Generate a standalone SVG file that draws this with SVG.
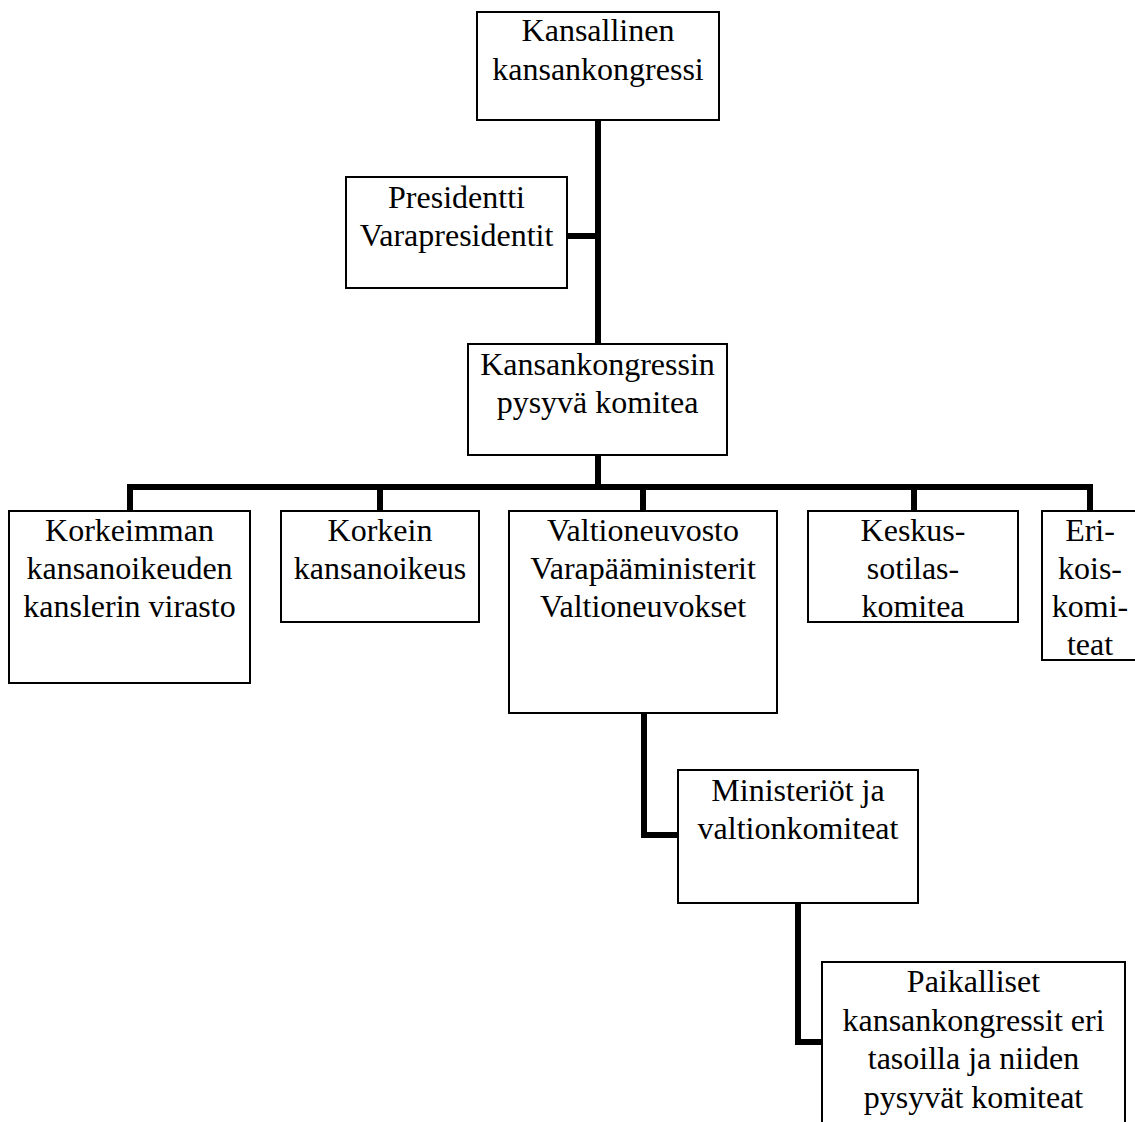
<svg xmlns="http://www.w3.org/2000/svg" width="1135" height="1122" viewBox="0 0 1135 1122">
<style>
.box{fill:#fff;stroke:#000;stroke-width:2}
.lbl{font-family:'Liberation Serif','DejaVu Serif',serif;font-size:32px;fill:#000;text-anchor:middle}
.con{fill:none;stroke:#000;stroke-width:6;stroke-linejoin:miter;stroke-linecap:butt}
</style>
<rect width="1135" height="1122" fill="#fff"/>
<g id="connectors">
<path class="con" d="M598 120 V344"/>
<path class="con" d="M567 236 H598"/>
<path class="con" d="M598 455 V487"/>
<path class="con" d="M130 511 V487 H1090 V511"/>
<path class="con" d="M380 487 V511"/>
<path class="con" d="M643 487 V511"/>
<path class="con" d="M914 487 V511"/>
<path class="con" d="M644 713 V835 H678"/>
<path class="con" d="M798 903 V1042 H822"/>
</g>
<g id="node-kansallinen">
<rect class="box" x="477" y="12" width="242" height="108"/>
<text class="lbl" x="598" y="41">Kansallinen</text>
<text class="lbl" x="598" y="79.5">kansankongressi</text>
</g>
<g id="node-presidentti">
<rect class="box" x="346" y="177" width="221" height="111"/>
<text class="lbl" x="456.5" y="208">Presidentti</text>
<text class="lbl" x="456.5" y="246">Varapresidentit</text>
</g>
<g id="node-pysyva">
<rect class="box" x="468" y="344" width="259" height="111"/>
<text class="lbl" x="597.5" y="375">Kansankongressin</text>
<text class="lbl" x="597.5" y="413">pysyvä komitea</text>
</g>
<g id="node-kansleri">
<rect class="box" x="9" y="511" width="241" height="172"/>
<text class="lbl" x="129.5" y="541">Korkeimman</text>
<text class="lbl" x="129.5" y="579">kansanoikeuden</text>
<text class="lbl" x="129.5" y="617">kanslerin virasto</text>
</g>
<g id="node-korkein">
<rect class="box" x="281" y="511" width="198" height="111"/>
<text class="lbl" x="380" y="541">Korkein</text>
<text class="lbl" x="380" y="579">kansanoikeus</text>
</g>
<g id="node-valtioneuvosto">
<rect class="box" x="509" y="511" width="268" height="202"/>
<text class="lbl" x="643" y="541">Valtioneuvosto</text>
<text class="lbl" x="643" y="579">Varapääministerit</text>
<text class="lbl" x="643" y="617">Valtioneuvokset</text>
</g>
<g id="node-keskus">
<rect class="box" x="808" y="511" width="210" height="111"/>
<text class="lbl" x="913" y="541">Keskus-</text>
<text class="lbl" x="913" y="579">sotilas-</text>
<text class="lbl" x="913" y="617">komitea</text>
</g>
<g id="node-erikois">
<rect class="box" x="1042" y="511" width="100" height="149"/>
<text class="lbl" x="1090" y="541">Eri-</text>
<text class="lbl" x="1090" y="579">kois-</text>
<text class="lbl" x="1090" y="617">komi-</text>
<text class="lbl" x="1090" y="655">teat</text>
</g>
<g id="node-ministeriot">
<rect class="box" x="678" y="770" width="240" height="133"/>
<text class="lbl" x="798" y="801">Ministeriöt ja</text>
<text class="lbl" x="798" y="839">valtionkomiteat</text>
</g>
<g id="node-paikalliset">
<rect class="box" x="822" y="962" width="303" height="170"/>
<text class="lbl" x="973.5" y="992">Paikalliset</text>
<text class="lbl" x="973.5" y="1030.5">kansankongressit eri</text>
<text class="lbl" x="973.5" y="1069">tasoilla ja niiden</text>
<text class="lbl" x="973.5" y="1107.5">pysyvät komiteat</text>
</g>
</svg>
